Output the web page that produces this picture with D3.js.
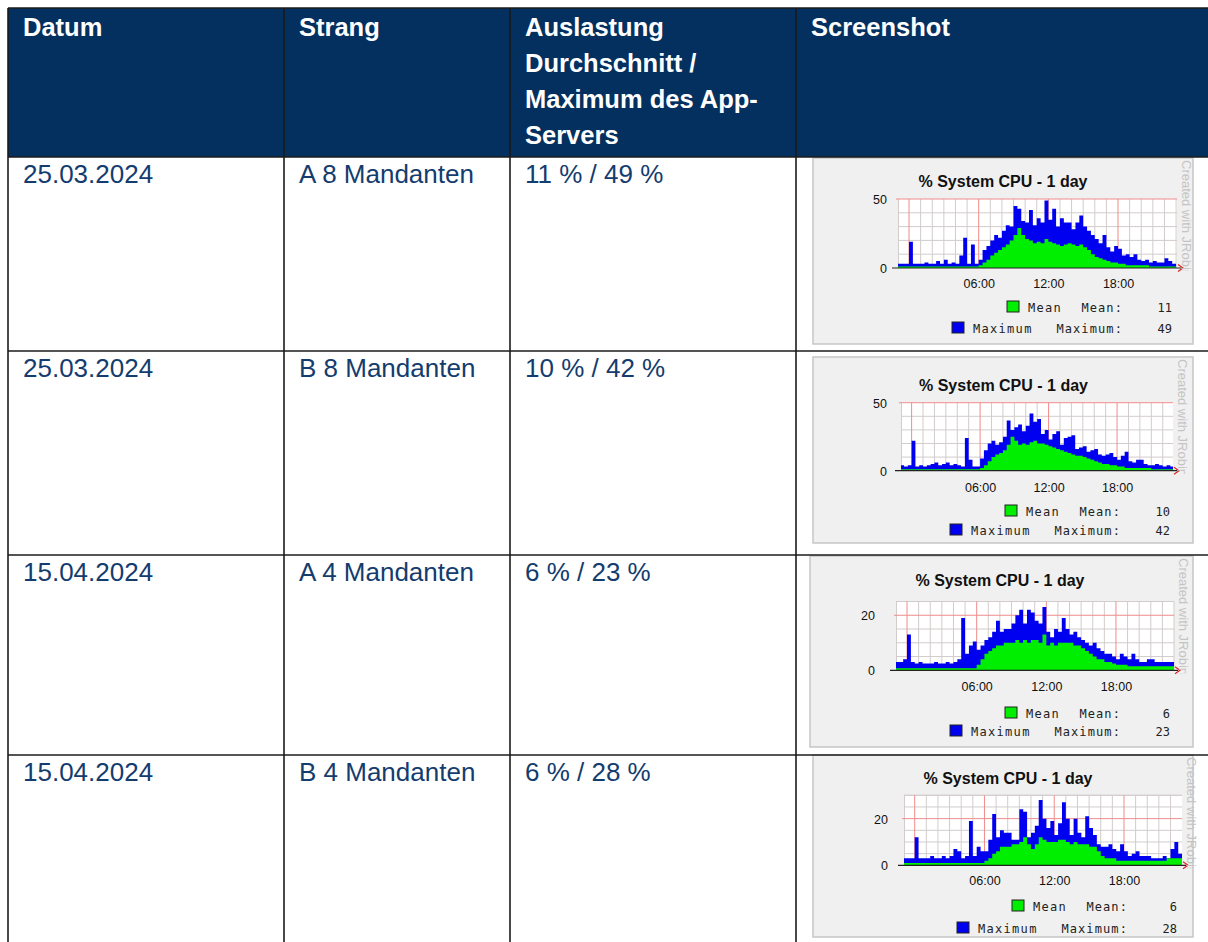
<!DOCTYPE html>
<html><head><meta charset="utf-8">
<script src="https://cdn.jsdelivr.net/npm/d3@7"></script>
<style>html,body{margin:0;padding:0;background:#fff;} svg{display:block;}</style>
</head><body><svg id="c" width="1208" height="942"></svg>
<script>
// ---------------- data ----------------
const headerLines = [["Datum"], ["Strang"], ["Auslastung", "Durchschnitt /", "Maximum des App-", "Servers"], ["Screenshot"]];
const dates = ["25.03.2024", "25.03.2024", "15.04.2024", "15.04.2024"];
const strands = ["A 8 Mandanten", "B 8 Mandanten", "A 4 Mandanten", "B 4 Mandanten"];
const loads = ["11 % / 49 %", "10 % / 42 %", "6 % / 23 %", "6 % / 28 %"];
const chartTitle = "% System CPU - 1 day";
const watermark = "Created with JRobin";
const timeTickHours = [6, 12, 18];
const timeTickLabels = ["06:00", "12:00", "18:00"];
const yTickValues = [[0, 50], [0, 50], [0, 20], [0, 20]];
const yMaxValues = [50, 50, 25, 30];
const yMinorSteps = [10, 10, 5, 5];
const yMajorSteps = [50, 50, 20, 20];
const legendNames = ["Mean", "Maximum"];
const legendStatLabels = ["Mean:", "Maximum:"];
const meanStats = [11, 10, 6, 6];
const maxStats = [49, 42, 23, 28];
const seriesStartHour = -1;
const samplesPerHour = 3;

// 20-minute samples, from 23:00 of the previous day
const maxA8 = [3,3,3, 19,3,3, 3,4,3, 3,5,3, 6,3,4, 3,9,22, 3,17,3, 6,13,16, 20,24,22, 27,31,30,
  45,43,34, 33,42,31, 36,33,49, 35,43,30, 36,33,33, 28,33,38, 30,27,24, 21,18,24, 15,12,16, 14,9,10,
  8,10,6, 5,6,4, 5,4,4, 7,5,3];
const meanA8 = [1,1,1, 1,1,1, 1,1,1, 1,1,1, 1,1,1, 1,1,1, 1,1,1, 2,4,6, 9,11,13, 15,17,20,
  24,29,24, 21,20,18, 19,18,21, 19,18,17, 16,17,18, 17,16,17, 15,13,10, 8,7,6, 5,4,4, 3,3,2,
  2,2,2, 2,2,1, 1,1,1, 1,1,1];
const maxB8 = [4,3,4, 22,3,4, 3,4,5, 6,4,5, 6,4,5, 4,3,24, 8,3,3, 9,15,20, 22,19,21, 25,37,30,
  32,34,29, 33,42,36, 38,27,30, 23,27,29, 19,24,25, 26,16,17, 18,14,15, 16,12,11, 12,13,10, 8,11,14,
  7,6,8, 8,5,4, 4,5,4, 3,4,3];
const meanB8 = [1,1,1, 1,1,1, 1,1,1, 1,1,1, 1,1,1, 1,1,1, 1,1,1, 2,4,7, 10,12,13, 15,19,25,
  22,19,20, 19,21,22, 20,20,19, 18,17,16, 15,14,13, 12,11,11, 10,9,8, 7,6,5, 5,4,4, 3,3,2,
  2,2,2, 2,2,2, 1,1,1, 1,1,1];
const maxA4 = [3,3,4, 13,3,2.5, 3,2.5,2.5, 2.5,3,2.5, 2.5,3,2.5, 3,4,19, 6,9,10.5, 7.5,9,11, 12,14,18, 14,15,15,
  17,20,22, 17,22,21, 18,17,23, 14,12,15, 14,19,15, 13,14,12, 11,10,9, 10,8,7, 6,6,5, 4,6,5,
  4,6,4, 3,3,4, 4,3,3, 3,3,3];
const meanA4 = [0.7,0.7,0.7, 0.7,0.7,0.7, 0.7,0.7,0.7, 0.7,0.7,0.7, 0.7,0.7,0.7, 0.7,0.7,0.7, 0.7,0.7,0.7, 2,4,6, 7,8,9, 9,10,10,
  10,11,10, 11,10,11, 11,10,13, 9,10,9, 10,10,10, 10,9,9, 8,7,6, 5,4,4, 3,3,2.5, 2,2,2,
  1.5,1.5,1.5, 1.5,1.5,1.5, 1.5,1.5,1.5, 1.5,1.5,1.5];
const maxB4 = [3,3,3, 12,3,3, 3,4,3, 3,4,3, 4,7,6, 3,4,19, 4,8,6, 6,11,22, 12,15,14, 14,11,11,
  24,23,12, 14,17,28, 20,16,19, 13,18,27, 20,13,20, 14,12,21, 16,13,9, 8,8,9, 7,6,9, 6,4,5,
  6,4,4, 4,3,3, 3,4,3, 7,10,5];
const meanB4 = [1,1,1, 1,1,1, 1,1,1, 1,1,1, 1,1,1, 1,1,1, 1,1,1, 2,3,5, 6,8,8, 8,9,9,
  10,12,9, 7,9,12, 11,10,10, 10,11,11, 10,9,10, 9,9,9, 8,8,6, 4,3,3, 3,2,2, 2,2,2,
  2,2,2, 2,2,2, 2,2,3, 3,3,3];
const maxSeries = [maxA8, maxB8, maxA4, maxB4];
const meanSeries = [meanA8, meanB8, meanA4, meanB4];

// ---------------- layout (positions / styles) ----------------
const colX = [8, 284, 510, 796, 1215];
const rowY = [8, 157, 351, 555, 755, 950];
const navy = "#03305f", cellText = "#143c6e", lineCol = "#1b1b1b";
const chartLayout = [
  {box:[813,158,380,186], x0:898, x1:1177, y0:199,   y1:268,   t0:-0.95, t1:23.08, titleX:1003,  titleY:187, xlabY:288, yLabX:887, leg:[312,333], R:1172},
  {box:[813,357,380,186], x0:901, x1:1173, y0:402.7, y1:470.7, t0:-0.93, t1:22.9,  titleX:1003.5,titleY:391, xlabY:492, yLabX:887, leg:[516,535], R:1170},
  {box:[810,556,383,191], x0:896, x1:1174, y0:601.5, y1:670.3, t0:-0.95, t1:23.0,  titleX:1000,  titleY:586, xlabY:691, yLabX:875, leg:[718,736], R:1170},
  {box:[813,755,380,182], x0:904, x1:1182, y0:795.3, y1:865.3, t0:-0.92, t1:22.99, titleX:1008,  titleY:784, xlabY:885, yLabX:888, leg:[911,933], R:1177}
];

const svg = d3.select("#c");
const defs = svg.append("defs");

// ---------------- table ----------------
svg.append("rect").attr("x", colX[0]).attr("y", rowY[0]).attr("width", colX[4]-colX[0]).attr("height", rowY[1]-rowY[0]).attr("fill", navy);
headerLines.forEach((lines, c) => {
  const t = svg.append("text").attr("x", colX[c] + 15).attr("y", 36)
    .attr("fill", "#fff").attr("font-family", "Liberation Sans, Arial, sans-serif").attr("font-weight", "bold").attr("font-size", 25.5);
  lines.forEach((l, i) => t.append("tspan").attr("x", colX[c] + 15).attr("y", 36 + i * 36).text(l));
});
const cols = [dates, strands, loads];
cols.forEach((arr, c) => {
  arr.forEach((v, r) => {
    svg.append("text").attr("x", colX[c] + 15).attr("y", rowY[r + 1] + 26)
      .attr("fill", cellText).attr("font-family", "Liberation Sans, Arial, sans-serif").attr("font-size", 26).text(v);
  });
});

// ---------------- charts ----------------
chartLayout.forEach((L, k) => {
  const g = svg.append("g");
  const [bx, by, bw, bh] = L.box;
  g.append("rect").attr("x", bx).attr("y", by).attr("width", bw).attr("height", bh)
    .attr("fill", "#f0f0f0").attr("stroke", "#c6c6c6").attr("stroke-width", 1.5);

  const x = d3.scaleLinear().domain([L.t0, L.t1]).range([L.x0, L.x1]);
  const y = d3.scaleLinear().domain([0, yMaxValues[k]]).range([L.y1, L.y0]);

  g.append("rect").attr("x", L.x0).attr("y", L.y0).attr("width", L.x1 - L.x0).attr("height", L.y1 - L.y0).attr("fill", "#fff");

  // grid
  const hours = d3.range(Math.ceil(L.t0), Math.floor(L.t1) + 1);
  const minorH = hours.filter(h => h % 6 !== 0);
  const majorH = hours.filter(h => h % 6 === 0);
  const yMinor = d3.range(yMinorSteps[k], yMaxValues[k] + 0.01, yMinorSteps[k]).filter(v => v % yMajorSteps[k] !== 0);
  const yMajor = d3.range(yMajorSteps[k], yMaxValues[k] + 0.01, yMajorSteps[k]);
  const minorCol = "#d2cccc", majorCol = "#f08c8c";
  g.append("line").attr("x1", L.x0 + 0.5).attr("x2", L.x0 + 0.5).attr("y1", L.y0).attr("y2", L.y1).attr("stroke", minorCol);
  g.selectAll(null).data(minorH).join("line")
    .attr("x1", d => x(d)).attr("x2", d => x(d)).attr("y1", L.y0).attr("y2", L.y1).attr("stroke", minorCol).attr("stroke-width", 1);
  g.selectAll(null).data(yMinor).join("line")
    .attr("x1", L.x0).attr("x2", L.x1).attr("y1", d => y(d)).attr("y2", d => y(d)).attr("stroke", minorCol).attr("stroke-width", 1);
  if (yMaxValues[k] % yMajorSteps[k] !== 0) {
    g.append("line").attr("x1", L.x0).attr("x2", L.x1).attr("y1", L.y0).attr("y2", L.y0).attr("stroke", minorCol);
  }
  g.selectAll(null).data(majorH).join("line")
    .attr("x1", d => x(d)).attr("x2", d => x(d)).attr("y1", L.y0).attr("y2", L.y1).attr("stroke", majorCol).attr("stroke-width", 1);
  g.selectAll(null).data(yMajor).join("line")
    .attr("x1", L.x0 - 2).attr("x2", L.x1).attr("y1", d => y(d)).attr("y2", d => y(d)).attr("stroke", majorCol).attr("stroke-width", 1);

  // series
  const clipId = "clip" + k;
  defs.append("clipPath").attr("id", clipId).append("rect")
    .attr("x", L.x0).attr("y", L.y0 - 2).attr("width", L.x1 - L.x0).attr("height", L.y1 - L.y0 + 2);
  const toPts = arr => {
    const pts = arr.map((v, i) => ({t: seriesStartHour + i / samplesPerHour, v}));
    pts.push({t: seriesStartHour + arr.length / samplesPerHour, v: arr[arr.length - 1]});
    return pts;
  };
  const area = d3.area().x(d => x(d.t)).y0(y(0)).y1(d => y(d.v)).curve(d3.curveStepAfter);
  const sg = g.append("g").attr("clip-path", `url(#${clipId})`);
  sg.append("path").datum(toPts(maxSeries[k])).attr("d", area).attr("fill", "#0000f0");
  sg.append("path").datum(toPts(meanSeries[k])).attr("d", area).attr("fill", "#00ee00");

  // zero axis + arrow
  g.append("line").attr("x1", L.x0 - 6).attr("x2", L.x1 + 4).attr("y1", L.y1).attr("y2", L.y1).attr("stroke", "#222").attr("stroke-width", 1.2);
  g.append("path").attr("d", `M${L.x1 + 1},${L.y1 - 3.5} L${L.x1 + 6},${L.y1} L${L.x1 + 1},${L.y1 + 3.5}`)
    .attr("fill", "none").attr("stroke", "#e02020").attr("stroke-width", 1.2);

  // axes labels
  const xAxis = d3.axisBottom(x).tickValues(timeTickHours).tickFormat((d, i) => timeTickLabels[i]).tickSize(0).tickPadding(0);
  const xa = g.append("g").attr("transform", `translate(0,${L.xlabY})`).call(xAxis);
  xa.select(".domain").remove();
  xa.selectAll("text").attr("dy", 0).attr("y", 0).attr("font-family", "Liberation Sans, Arial, sans-serif").attr("font-size", 12.5).attr("fill", "#111");
  const yAxis = d3.axisLeft(y).tickValues(yTickValues[k]).tickSize(0).tickPadding(0);
  const ya = g.append("g").attr("transform", `translate(${L.yLabX},0)`).call(yAxis);
  ya.select(".domain").remove();
  ya.selectAll("text").attr("x", 0).attr("dy", "0.35em").attr("font-family", "Liberation Sans, Arial, sans-serif").attr("font-size", 12.5).attr("fill", "#111");

  // title
  g.append("text").attr("x", L.titleX).attr("y", L.titleY).attr("text-anchor", "middle")
    .attr("font-family", "Liberation Sans, Arial, sans-serif").attr("font-weight", "bold").attr("font-size", 16).attr("fill", "#111").text(chartTitle);

  // watermark (vertical, clipped at the axis)
  const wmClip = "wm" + k;
  defs.append("clipPath").attr("id", wmClip).append("rect").attr("x", L.x1).attr("y", by).attr("width", 20).attr("height", L.y1 - by + 3);
  g.append("g").attr("clip-path", `url(#${wmClip})`)
    .append("text")
    .attr("transform", `translate(${L.x1 + 5},${by + 2}) rotate(90)`)
    .attr("font-family", "Liberation Sans, Arial, sans-serif").attr("font-size", 13).attr("fill", "#c4c4c4").text(watermark);

  // legend
  const legColors = ["#00ee00", "#0000f0"];
  const nameStart = [L.R - 144, L.R - 199];
  const stats = [meanStats[k], maxStats[k]];
  [0, 1].forEach(j => {
    const by2 = L.leg[j];
    g.append("rect").attr("x", nameStart[j] - 21).attr("y", by2 - 11).attr("width", 12).attr("height", 11)
      .attr("fill", legColors[j]).attr("stroke", "#222").attr("stroke-width", 1);
    g.append("text").attr("x", nameStart[j]).attr("y", by2)
      .attr("font-family", "DejaVu Sans Mono, monospace").attr("font-size", 12).attr("letter-spacing", 1.3).attr("fill", "#222").text(legendNames[j]);
    g.append("text").attr("x", L.R - 49).attr("y", by2).attr("text-anchor", "end")
      .attr("font-family", "DejaVu Sans Mono, monospace").attr("font-size", 12).attr("letter-spacing", 1.1).attr("fill", "#222").text(legendStatLabels[j]);
    g.append("text").attr("x", L.R).attr("y", by2).attr("text-anchor", "end")
      .attr("font-family", "DejaVu Sans Mono, monospace").attr("font-size", 12).attr("fill", "#222").text(stats[j]);
  });
});

// table grid lines (drawn last, on top)
colX.forEach(cx => svg.append("line").attr("x1", cx).attr("x2", cx).attr("y1", rowY[0]).attr("y2", rowY[5]).attr("stroke", lineCol).attr("stroke-width", 1.6));
rowY.slice(0, 5).forEach(ry => svg.append("line").attr("x1", colX[0]).attr("x2", colX[4]).attr("y1", ry).attr("y2", ry).attr("stroke", lineCol).attr("stroke-width", 1.6));
</script>
</body></html>
